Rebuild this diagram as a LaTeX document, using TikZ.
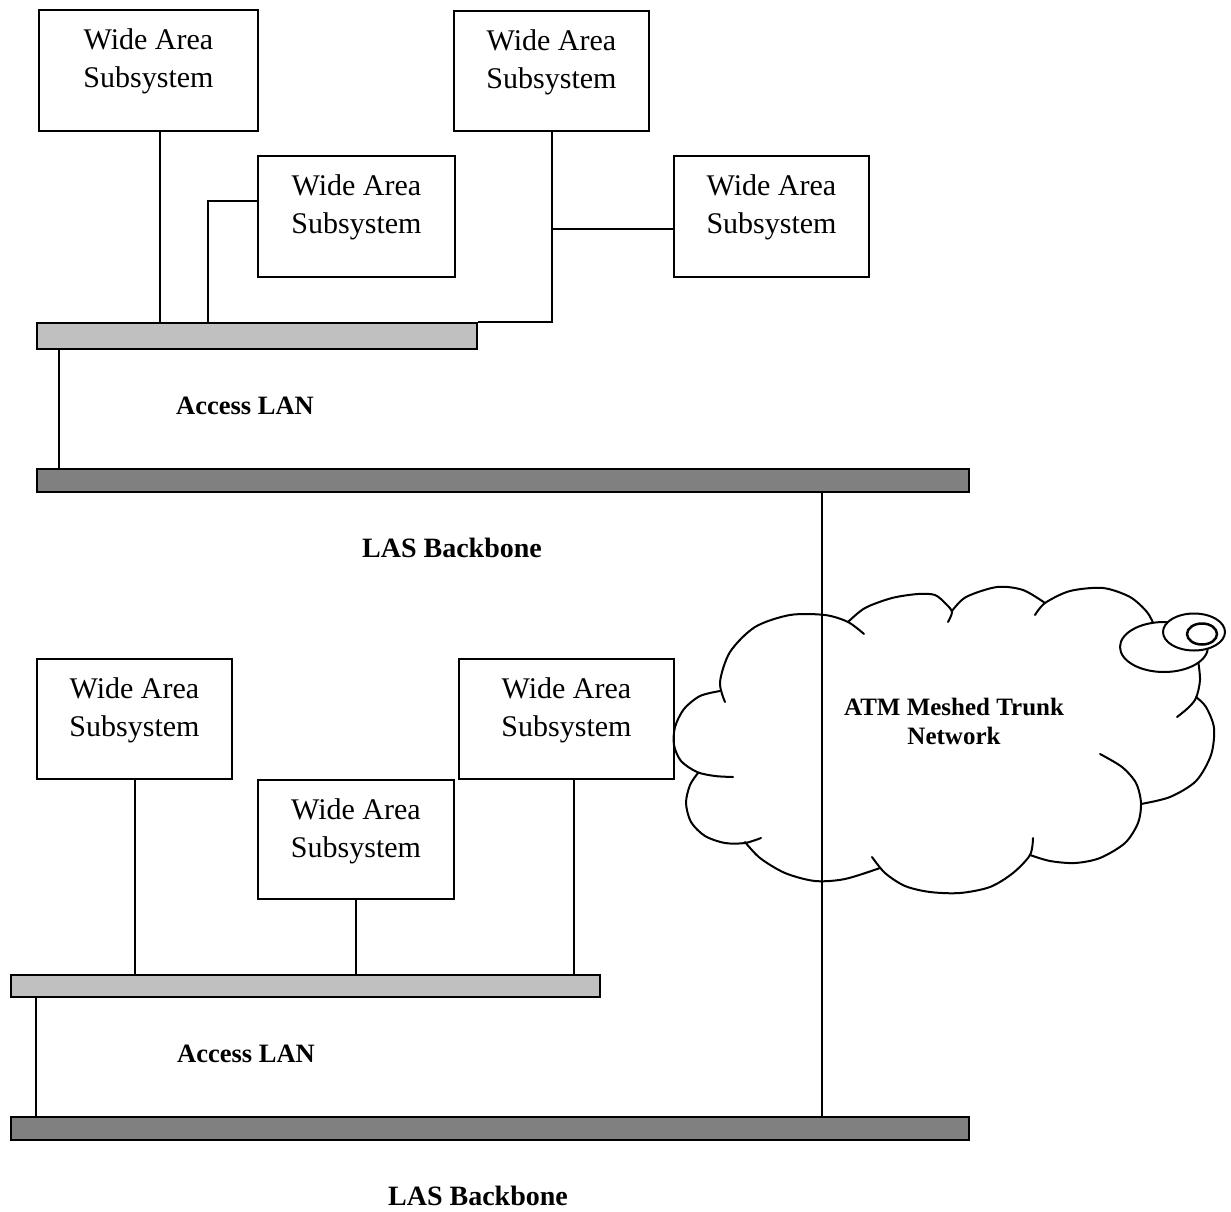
\documentclass[tikz,border=0pt]{standalone}
\usepackage{fontspec}
\setmainfont{Liberation Serif}
\begin{document}
\begin{tikzpicture}[x=1pt,y=-1pt,line width=2pt,
  wbox/.style={draw,line width=2pt,inner sep=0pt,anchor=north west,fill=white},
  wtext/.style={inner sep=0pt,anchor=north,align=center,font=\fontsize{30}{38}\selectfont},
  accbar/.style={draw,line width=2pt,inner sep=0pt,anchor=north west,fill=lanGray,minimum height=26pt},
  bonebar/.style={draw,line width=2pt,inner sep=0pt,anchor=north west,fill=boneGray,minimum height=23pt},
  lbl/.style={inner sep=0pt,anchor=base,font=\fontsize{26.5}{30}\selectfont\bfseries},
  bblbl/.style={lbl,font=\fontsize{28}{30}\selectfont\bfseries},
  link/.style={draw,line width=2pt},
  puff/.style={draw,line width=2pt,line cap=round,line join=round}]
\definecolor{lanGray}{HTML}{C0C0C0}
\definecolor{boneGray}{HTML}{808080}
\useasboundingbox (0,0) rectangle (1231,1212);

% upper site: subsystems
\node[wbox,minimum width=219pt,minimum height=121pt] (b1) at (38,9) {};
\node[wbox,minimum width=197pt,minimum height=121pt] (b2) at (257,155) {};
\node[wbox,minimum width=195pt,minimum height=120pt] (b3) at (453,10) {};
\node[wbox,minimum width=195pt,minimum height=121pt] (b4) at (673,155) {};
\node[wtext] (t1) at ([yshift=-18.5pt]b1.north) {Wide Area\\Subsystem};
\node[wtext] (t2) at ([yshift=-18.5pt]b2.north) {Wide Area\\Subsystem};
\node[wtext] (t3) at ([yshift=-18.5pt]b3.north) {Wide Area\\Subsystem};
\node[wtext] (t4) at ([yshift=-18.5pt]b4.north) {Wide Area\\Subsystem};

% upper site: access LAN and backbone
\node[accbar,minimum width=440pt] (acc1) at (36,322) {};
\node[bonebar,minimum width=932pt] (bb1) at (36,468) {};
\node[lbl] (acclbl1) at (245,414) {Access LAN};
\node[bblbl] (bblbl1) at (452,557) {LAS Backbone};

\draw[link] ([xshift=11.5pt]b1.south) -- ([xshift=11.5pt]b1.south |- acc1.north);
\coordinate (j2) at ([xshift=-49pt,yshift=15.5pt]b2.west);
\draw[link] ([yshift=15.5pt]b2.west) -- (j2) -- (j2 |- acc1.north);
\draw[link] (b3.south) |- (acc1.north east);
\draw[link] ([yshift=-12.5pt]b4.west) -- ([yshift=-12.5pt]b4.west -| b3.south);
\draw[link] ([xshift=23pt]acc1.south west) -- ([xshift=23pt]acc1.south west |- bb1.north);

% lower site: subsystems
\node[wbox,minimum width=195pt,minimum height=120pt] (b5) at (36,658) {};
\node[wbox,minimum width=196pt,minimum height=119pt] (b6) at (257,779) {};
\node[wbox,minimum width=215pt,minimum height=120pt] (b7) at (458,658) {};
\node[wtext] (t5) at ([yshift=-18.5pt]b5.north) {Wide Area\\Subsystem};
\node[wtext] (t6) at ([yshift=-18.5pt]b6.north) {Wide Area\\Subsystem};
\node[wtext] (t7) at ([yshift=-18.5pt]b7.north) {Wide Area\\Subsystem};

% lower site: access LAN and backbone
\node[accbar,minimum width=589pt,minimum height=22pt] (acc2) at (10,974) {};
\node[bonebar,minimum width=958pt] (bb2) at (10,1116) {};
\node[lbl] (acclbl2) at (246,1062) {Access LAN};
\node[bblbl] (bblbl2) at (478,1205) {LAS Backbone};

\draw[link] (b5.south) -- (b5.south |- acc2.north);
\draw[link] (b6.south) -- (b6.south |- acc2.north);
\draw[link] ([xshift=7.5pt]b7.south) -- ([xshift=7.5pt]b7.south |- acc2.north);
\draw[link] ([xshift=26pt]acc2.south west) -- ([xshift=26pt]acc2.south west |- bb2.north);

% trunk network cloud
\draw[puff] plot[smooth] coordinates {(725,702) (720,682) (730,652) (755,627) (790,615) (825,615) (848,622) (864,634)};
\draw[puff] plot[smooth] coordinates {(720,691) (700,696) (684,709) (675,727) (674,745) (681,761) (697,772) (715,776) (733,777)};
\draw[puff] plot[smooth] coordinates {(698,773) (690,785) (686,803) (691,822) (705,836) (725,843) (745,843) (761,838)};
\draw[puff] plot[smooth] coordinates {(745,842) (760,858) (785,873) (815,881) (845,879) (880,868)};
\draw[puff] plot[smooth] coordinates {(872,857) (885,873) (905,886) (930,892) (960,893) (990,887) (1013,873) (1030,855) (1033,838)};
\draw[puff] plot[smooth] coordinates {(1030,855) (1050,861) (1075,863) (1100,858) (1125,843) (1138,823) (1141,803) (1136,783) (1122,767) (1100,754)};
\draw[puff] plot[smooth] coordinates {(1141,804) (1170,797) (1196,781) (1211,755) (1214,728) (1206,707) (1196,697)};
\draw[puff] plot[smooth] coordinates {(1198,660) (1200,680) (1196,698) (1188,708) (1177,717)};
\draw[puff] plot[smooth] coordinates {(1035,615) (1045,603) (1070,591) (1103,588) (1130,597) (1147,612) (1154,625)};
\draw[puff] plot[smooth] coordinates {(952,611) (966,597) (997,587) (1023,590) (1045,603)};
\draw[puff] plot[smooth] coordinates {(848,622) (865,608) (892,598) (918,594) (935,595) (946,604) (952,612) (948,622)};
\draw[puff,fill=white] (1164,647) ellipse [x radius=44pt,y radius=25pt];
\draw[puff,fill=white] (1194,632) ellipse [x radius=31pt,y radius=18.5pt];
\draw[puff,line width=2.5pt] (1202,634) ellipse [x radius=15pt,y radius=10.5pt];
\node[inner sep=0pt,anchor=north,align=center,font=\fontsize{25}{29}\selectfont\bfseries] (atm) at (954,697) {ATM Meshed Trunk\\Network};

% trunk link between the two backbones
\draw[link] ([xshift=-148pt]bb1.south east) -- ([xshift=-148pt]bb1.south east |- bb2.north);
\end{tikzpicture}
\end{document}
